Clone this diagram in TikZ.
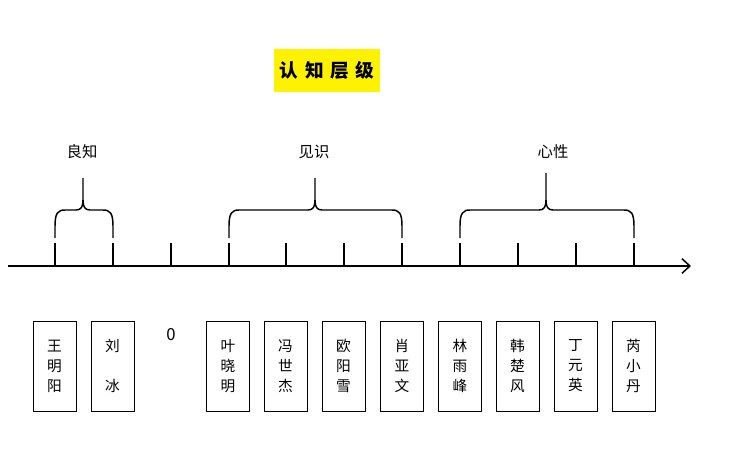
\documentclass[tikz,border=0pt]{standalone}
\usepackage{fontspec}
\newfontfamily\cjk{Noto Sans CJK SC}
\usetikzlibrary{arrows.meta}
\begin{document}
\begin{tikzpicture}[x=0.75pt,y=-0.75pt,
  tickline/.style={line width=1.5pt},
  axisline/.style={line width=1.1pt,-{Straight Barb[length=6pt,width=11pt,line width=1.1pt]}},
  brc/.style={line width=1.1pt,line join=round},
  namebox/.style={draw,line width=0.75pt,minimum width=32.25pt,minimum height=67.5pt,inner sep=0pt,align=center,font=\cjk\fontsize{11}{15}\selectfont},
  lbl/.style={font=\cjk\fontsize{11.5}{13}\selectfont},
  titlebox/.style={fill=yellow,minimum width=79.5pt,minimum height=32.25pt,inner sep=0pt,font=\cjk\bfseries\fontsize{14}{14}\selectfont}]
\useasboundingbox (0,0) rectangle (745,460);
% title
\node[titlebox] (title) at (327,70.5) {\raisebox{-4pt}{认\hspace{5pt}知\hspace{5pt}层\hspace{5pt}级}};
% axis
\coordinate (a0) at (8,266);
\coordinate (a1) at (691,266);
\draw[axisline] (a0) -- (a1);
\foreach \x [count=\i] in {55,113,171,229,286,344,402,460,518,576,634}{
  \coordinate (t\i) at (\x,266);
  \draw[tickline] (t\i) -- ++(0,-23);
}
% braces
\foreach \xa/\xb/\xm/\yt in {55/113/83/178,229/402/315/178,460/634/546/173}{
  \draw[brc] (\xa,238) -- (\xa,226) .. controls (\xa,213) and (\xa+3,210) .. (\xa+10,210)
    -- (\xm-7,210) .. controls (\xm-2,210) and (\xm,207) .. (\xm,200) -- (\xm,\yt);
  \draw[brc] (\xm,200) .. controls (\xm,207) and (\xm+2,210) .. (\xm+7,210)
    -- (\xb-10,210) .. controls (\xb-3,210) and (\xb,213) .. (\xb,226) -- (\xb,238);
}
% labels
\node[lbl] (l1) at (82,152) {良知};
\node[lbl] (l2) at (314,152) {见识};
\node[lbl] (l3) at (553,152) {心性};
% zero
\node[font=\cjk\fontsize{12.5}{14}\selectfont] (zero) at (171,335) {0};
% name boxes
\node[namebox] (b1) at (54.5,366) {王\\明\\阳};
\node[namebox] (b2) at (112.5,366) {刘\\\mbox{}\\冰};
\node[namebox] (b3) at (228,366) {叶\\晓\\明};
\node[namebox] (b4) at (285.5,366) {冯\\世\\杰};
\node[namebox] (b5) at (343.5,366) {欧\\阳\\雪};
\node[namebox] (b6) at (402,366) {肖\\亚\\文};
\node[namebox] (b7) at (460,366) {林\\雨\\峰};
\node[namebox] (b8) at (517.5,366) {韩\\楚\\风};
\node[namebox] (b9) at (575.5,366) {丁\\元\\英};
\node[namebox] (b10) at (633.5,366) {芮\\小\\丹};
\end{tikzpicture}
\end{document}
